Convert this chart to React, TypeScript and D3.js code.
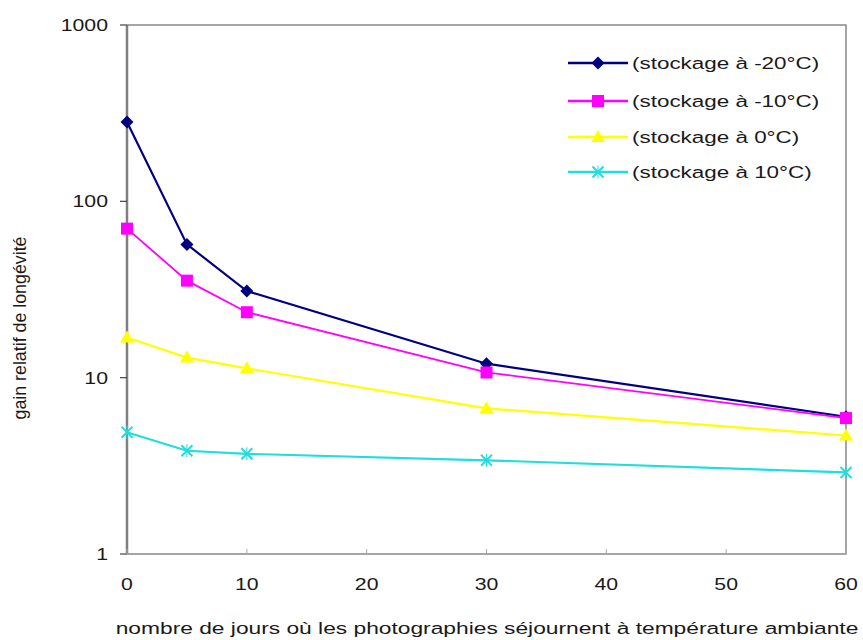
import React from 'react';
import * as d3 from 'd3';

// jours passés à température ambiante
const days = [0, 5, 10, 30, 60];
// gain relatif de longévité, une série par température de stockage
const gainMinus20 = [282, 57, 31, 12, 6];
const gainMinus10 = [70, 35.5, 23.5, 10.7, 5.9];
const gainZero = [16.9, 13, 11.3, 6.7, 4.7];
const gainTen = [4.9, 3.85, 3.7, 3.4, 2.9];

const seriesNames = [
  '(stockage à -20°C)',
  '(stockage à -10°C)',
  '(stockage à 0°C)',
  '(stockage à 10°C)',
];
const xTicks = [0, 10, 20, 30, 40, 50, 60];
const yTicks = [1, 10, 100, 1000];

const FONT = 'Liberation Sans, Arial, sans-serif';

function Marker({ kind, x, y, color }) {
  if (kind === 'diamond') {
    const r = 6.5;
    return <path d={`M${x},${y - r}L${x + r},${y}L${x},${y + r}L${x - r},${y}Z`} fill={color} />;
  }
  if (kind === 'square') {
    return <rect x={x - 6} y={y - 6} width={12} height={12} fill={color} />;
  }
  if (kind === 'triangle') {
    return <path d={`M${x},${y - 7}L${x + 7},${y + 5}L${x - 7},${y + 5}Z`} fill={color} />;
  }
  const r = 5.5;
  return (
    <g stroke={color} strokeWidth={2}>
      <line x1={x - r} y1={y - r} x2={x + r} y2={y + r} />
      <line x1={x - r} y1={y + r} x2={x + r} y2={y - r} />
      <line x1={x} y1={y - r - 1} x2={x} y2={y + r + 1} strokeWidth={1} />
    </g>
  );
}

// le texte de l'image est étiré horizontalement
function Txt({ x, y, anchor = 'start', size = 17, sx = 1.25, children }) {
  return (
    <text
      transform={`translate(${x},${y}) scale(${sx},1)`}
      textAnchor={anchor}
      fontFamily={FONT}
      fontSize={size}
      fill="#1a1a1a"
    >
      {children}
    </text>
  );
}

export default function App() {
  const width = 863;
  const height = 640;
  const left = 127, right = 846, top = 25, bottom = 554;

  const x = d3.scaleLinear().domain([0, 60]).range([left, right]);
  const y = d3.scaleLog().domain([1, 1000]).range([bottom, top]);

  const series = [
    { name: seriesNames[0], values: gainMinus20, color: '#000080', marker: 'diamond', w: 2.2 },
    { name: seriesNames[1], values: gainMinus10, color: '#ff00ff', marker: 'square', w: 1.8 },
    { name: seriesNames[2], values: gainZero, color: '#ffff00', marker: 'triangle', w: 2.2 },
    { name: seriesNames[3], values: gainTen, color: '#22dddd', marker: 'x', w: 2.2 },
  ];

  const line = d3.line().x(d => x(d[0])).y(d => y(d[1]));

  return (
    <svg width={width} height={height} style={{ position: 'absolute', left: 0, top: 0, background: '#fff' }}>
      {/* cadre */}
      <path d={`M${left},${top}H${right}V${bottom}H${left}`} fill="none" stroke="#888" strokeWidth={1.5} />
      <line x1={left} y1={top} x2={left} y2={bottom} stroke="#808080" strokeWidth={2.5} />

      {/* axe y */}
      {yTicks.map(t => (
        <g key={t}>
          <line x1={left - 7} x2={left} y1={y(t)} y2={y(t)} stroke="#444" strokeWidth={1.2} />
          <Txt x={108} y={y(t) + 6} anchor="end">{t}</Txt>
        </g>
      ))}

      {/* axe x */}
      {xTicks.map(t => (
        <g key={t}>
          <line x1={x(t)} x2={x(t)} y1={bottom} y2={bottom - 5} stroke="#aaa" strokeWidth={1} />
          <Txt x={x(t)} y={590} anchor="middle">{t}</Txt>
        </g>
      ))}

      {/* séries */}
      {series.map(s => {
        const pts = days.map((d, i) => [d, s.values[i]]);
        return (
          <g key={s.name}>
            <path d={line(pts)} fill="none" stroke={s.color} strokeWidth={s.w} />
            {pts.map((p, i) => (
              <Marker key={i} kind={s.marker} x={x(p[0])} y={y(p[1])} color={s.color} />
            ))}
          </g>
        );
      })}

      {/* légende */}
      {series.map((s, i) => {
        const ly = [63, 101, 137, 172][i];
        return (
          <g key={'l' + s.name}>
            <line x1={568} x2={628} y1={ly} y2={ly} stroke={s.color} strokeWidth={s.w + 0.5} />
            <Marker kind={s.marker} x={598} y={ly} color={s.color} />
            <Txt x={632} y={ly + 6} sx={1.32}>{s.name}</Txt>
          </g>
        );
      })}

      {/* titres */}
      <text
        x={0}
        y={0}
        transform={`translate(26,328) rotate(-90)`}
        textAnchor="middle"
        fontFamily={FONT}
        fontSize={18}
        textLength={183}
        lengthAdjust="spacingAndGlyphs"
        fill="#1a1a1a"
      >
        gain relatif de longévité
      </text>
      <Txt x={487} y={634} anchor="middle" sx={1.34}>nombre de jours où les photographies séjournent à température ambiante</Txt>
    </svg>
  );
}
